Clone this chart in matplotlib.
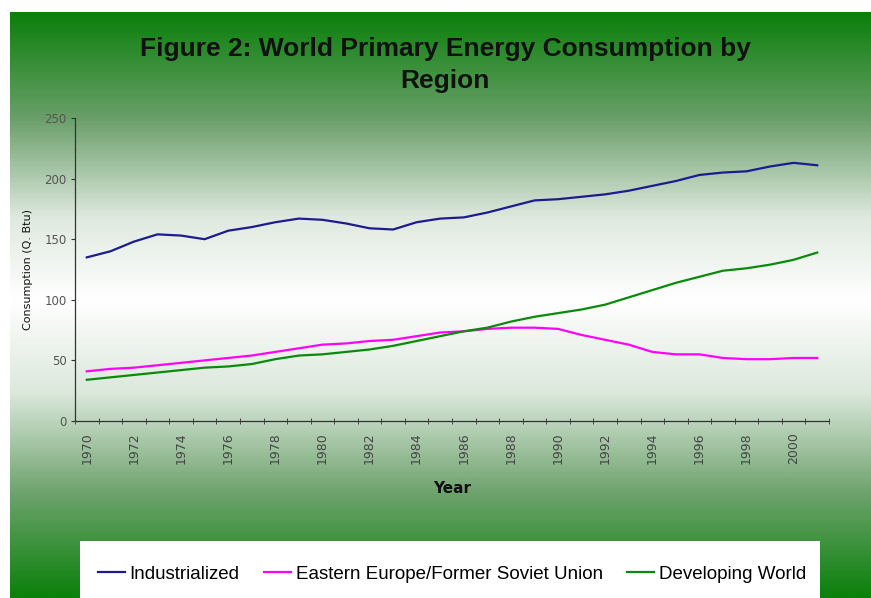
import matplotlib.pyplot as plt
import numpy as np
from matplotlib.colors import LinearSegmentedColormap
from matplotlib.patches import Rectangle

years = list(range(1970, 2002))

industrialized = [135, 140, 148, 154, 153, 150, 157, 160, 164, 167, 166, 163,
                  159, 158, 164, 167, 168, 172, 177, 182, 183, 185, 187, 190,
                  194, 198, 203, 205, 206, 210, 213, 211]
eastern_europe = [41, 43, 44, 46, 48, 50, 52, 54, 57, 60, 63, 64,
                  66, 67, 70, 73, 74, 76, 77, 77, 76, 71, 67, 63,
                  57, 55, 55, 52, 51, 51, 52, 52]
developing = [34, 36, 38, 40, 42, 44, 45, 47, 51, 54, 55, 57,
              59, 62, 66, 70, 74, 77, 82, 86, 89, 92, 96, 102,
              108, 114, 119, 124, 126, 129, 133, 139]

W, H = 871, 598
fig = plt.figure(figsize=(W / 100, H / 100), dpi=100)
fig.patch.set_facecolor("white")

# green -> white -> green gradient background
bg = fig.add_axes([10 / W, 0, (W - 10) / W, (H - 12) / H], zorder=0)
cmap = LinearSegmentedColormap.from_list(
    "g", [(0.0, "#0b800b"), (0.18, "#6a9f6a"), (0.35, "#dfe9df"),
          (0.49, "#ffffff"), (0.65, "#dce8dc"), (0.82, "#6fa46f"),
          (1.0, "#0b800b")])
grad = np.linspace(0, 1, 400).reshape(-1, 1)
bg.imshow(grad, aspect="auto", cmap=cmap, extent=[0, 1, 0, 1], origin="upper")
bg.set_axis_off()

ax = fig.add_axes([75 / W, (H - 421) / H, (829 - 75) / W, (421 - 118) / H], zorder=1)
ax.patch.set_alpha(0)

ax.plot(years, industrialized, color="#1c1c8f", lw=1.6, label="Industrialized")
ax.plot(years, eastern_europe, color="#ff00ff", lw=1.6,
        label="Eastern Europe/Former Soviet Union")
ax.plot(years, developing, color="#0a8a0a", lw=1.6, label="Developing World")

ax.set_xlim(1969.5, 2001.5)
ax.set_ylim(0, 250)
ax.set_yticks(range(0, 251, 50))
ax.set_xticks(range(1970, 2001, 2))
ax.set_xticks(np.arange(1969.5, 2001.6, 1), minor=True)
ax.tick_params(axis="x", which="major", length=0, pad=8, labelsize=9,
               labelcolor="#444444", rotation=90)
ax.tick_params(axis="x", which="minor", length=4, direction="inout",
               color="#333333")
ax.tick_params(axis="y", length=3, labelsize=8.5, labelcolor="#555555",
               color="#333333", pad=3)
for s in ["top", "right"]:
    ax.spines[s].set_visible(False)
for s in ["left", "bottom"]:
    ax.spines[s].set_color("#333333")
    ax.spines[s].set_linewidth(0.9)

ax.set_ylabel("Consumption (Q. Btu)", fontsize=8, color="#111111", labelpad=8)
ax.set_xlabel("Year", fontsize=11, fontweight="bold", color="#111111", labelpad=12)

fig.text(445 / W, 1 - 65 / H,
         "Figure 2: World Primary Energy Consumption by\nRegion",
         ha="center", va="center", fontsize=19, fontweight="bold",
         family="Liberation Sans", color="#111111", linespacing=1.45)

fig.patches.append(Rectangle((80 / W, 0), (820 - 80) / W, (H - 541) / H,
                             transform=fig.transFigure, facecolor="white",
                             edgecolor="none", zorder=2))
handles, labels = ax.get_legend_handles_labels()
leg = fig.legend(handles, labels, loc="center", ncol=3,
                 bbox_to_anchor=(452 / W, 1 - 574 / H), frameon=False,
                 prop={"family": "Liberation Sans", "size": 13.5},
                 handlelength=1.45, handletextpad=0.25, columnspacing=1.3)
leg.set_zorder(3)

fig.savefig("out.png", dpi=100)
